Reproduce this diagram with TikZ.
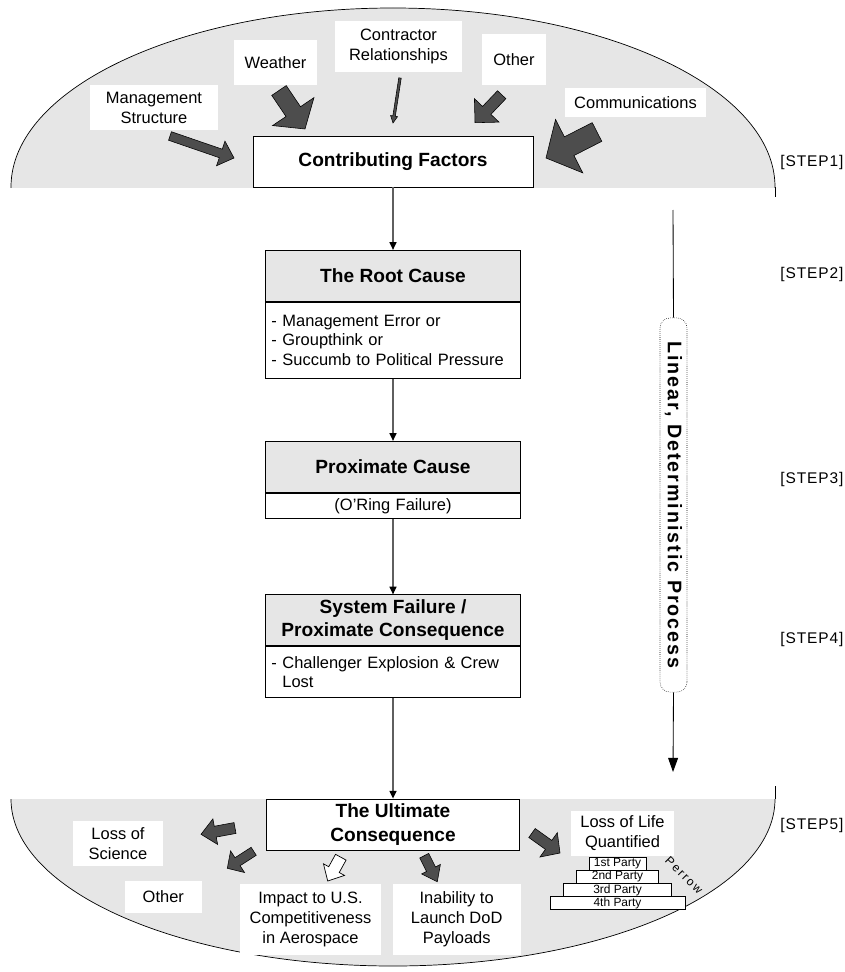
\documentclass[tikz,border=0pt]{standalone}
\usepackage{fontspec}
\setmainfont{Liberation Sans}
\newfontfamily\trackfont[LetterSpace=6]{Liberation Sans}
\newfontfamily\capfont[LetterSpace=10]{Liberation Sans}
\newfontfamily\wideTrack[LetterSpace=16]{Liberation Sans}
\usetikzlibrary{arrows.meta,positioning,calc}
\definecolor{bggray}{RGB}{230,230,230}
\definecolor{arrgray}{RGB}{77,77,77}
\definecolor{linegray}{RGB}{95,95,95}

\newcommand{\normsize}{\fontsize{11.7pt}{14.2pt}\selectfont}
\newcommand{\bodysize}{\fontsize{11.7pt}{13.9pt}\selectfont}
\newcommand{\titlesize}{\fontsize{13.6pt}{16.6pt}\selectfont}
\newcommand{\stepsize}{\fontsize{11pt}{13pt}\selectfont}
\newcommand{\partysize}{\fontsize{8.5pt}{9pt}\selectfont}
\newcommand{\capsize}{\fontsize{14pt}{16pt}\selectfont}
\newcommand{\pxu}{0.025cm}

% block arrow: [style]{tail}{tip}{shaft width}{head width}{head length}
\newcommand{\blockarrow}[6][barr]{%
  \coordinate (ba-b) at ($(#3)!#6*\pxu!(#2)$);
  \filldraw[#1] ($(#2)!0.5*#4*\pxu!90:(#3)$) -- ($(ba-b)!0.5*#4*\pxu!-90:(#2)$)
    -- ($(ba-b)!0.5*#5*\pxu!-90:(#2)$) -- (#3) -- ($(ba-b)!0.5*#5*\pxu!90:(#2)$)
    -- ($(ba-b)!0.5*#4*\pxu!90:(#2)$) -- ($(#2)!0.5*#4*\pxu!-90:(#3)$) -- cycle;
}

\begin{document}
\begin{tikzpicture}[
  x=0.025cm, y=-0.025cm,
  lbl/.style={fill=white, inner sep=0pt, align=center, font=\normsize},
  tbox/.style={draw, fill=white, line width=0.6pt, inner sep=0pt, align=center,
               font=\titlesize\bfseries},
  hbox/.style={tbox, fill=bggray, minimum width=6.375cm, minimum height=1.275cm},
  bbox/.style={draw, fill=white, line width=0.6pt, minimum width=6.375cm,
               font=\bodysize, inner xsep=0.15cm, inner ysep=0pt, text width=6.075cm},
  party/.style={draw, fill=white, line width=0.5pt, inner sep=0pt,
                minimum height=0.31cm, font=\partysize},
  steplbl/.style={anchor=west, inner sep=0pt, font=\trackfont\stepsize},
  conn/.style={draw=linegray, line width=0.9pt, -{Triangle[black, width=5pt, length=5.5pt]}},
  bowl/.style={fill=bggray, draw=black, line width=0.5pt},
  barr/.style={fill=arrgray, draw=black, line width=0.4pt},
  wbarr/.style={fill=white, draw=black, line width=0.5pt},
  capsule/.style={draw, densely dotted, line width=0.4pt, fill=white, rounded corners=0.25cm,
                  minimum width=9.35cm, minimum height=0.675cm, inner sep=0pt, rotate=-90,
                  font=\capfont\bfseries\capsize},
]
\useasboundingbox (0,0) rectangle (845,972);

% Bowls
\begin{scope}
  \clip (0,0) rectangle (845,187);
  \filldraw[bowl] (393,187) ellipse [x radius=382, y radius=179];
\end{scope}
\begin{scope}
  \clip (0,799) rectangle (845,972);
  \filldraw[bowl] (393,799) ellipse [x radius=382, y radius=167];
\end{scope}
\draw[line width=0.5pt] (775,187) -- (775,197);
\draw[line width=0.5pt] (775,786) -- (775,799);

% Contributing factors
\node[lbl, minimum width=3.2cm, minimum height=1.125cm] (mgmt) at (154,107.5) {Management\\Structure};
\node[lbl, minimum width=2.075cm, minimum height=1.125cm] (wthr) at (275.5,62.5) {Weather};
\node[lbl, minimum width=3.175cm, minimum height=1.275cm] (ctr) at (398.5,46.2) {Contractor\\Relationships};
\node[lbl, minimum width=1.6cm, minimum height=1.275cm] (oth) at (514,59.5) {Other};
\node[lbl, minimum width=3.525cm, minimum height=0.7cm] (comm) at (635.5,102.5) {Communications};
\node[tbox, minimum width=7cm, minimum height=1.275cm] (contrib) at (393,161.5) {Contributing Factors};

\blockarrow{170,136}{234,158}{9}{26}{14}
\blockarrow{279,90.5}{305,129}{17.5}{50}{21}
\blockarrow{400,78}{393,123}{2.5}{7}{7}
\blockarrow{501.7,94.7}{475,122.7}{11.5}{34}{17}
\blockarrow{597,132}{546,158}{21}{60}{26}

% Chain
\node[hbox] (rooth) at (393,275.8) {The Root Cause};
\node[bbox, below=0pt of rooth, minimum height=1.9cm, align=left] (rootb)
  {- Management Error or\\- Groupthink or\\- Succumb to Political Pressure};
\node[hbox] (proxh) at (393,466.8) {Proximate Cause};
\node[bbox, below=0pt of proxh, minimum height=0.64cm, align=center] (proxb) {(O'Ring Failure)};
\node[hbox] (sysh) at (393,620.3) {System Failure /\\Proximate Consequence};
\node[bbox, below=0pt of sysh, minimum height=1.275cm, align=left] (sysb)
  {- Challenger Explosion \& Crew\\\phantom{- }Lost};
\node[tbox, minimum width=6.33cm, minimum height=1.275cm] (ult) at (393,824.5) {The Ultimate\\Consequence};

\draw[conn] (contrib) -- (rooth);
\draw[conn] (rootb) -- (proxh);
\draw[conn] (proxb) -- (sysh);
\draw[conn] (sysb) -- (ult);

% Ultimate consequences
\node[lbl, minimum width=2.265cm, minimum height=1.125cm] (sci) at (118,843.2) {Loss of\\Science};
\node[lbl, minimum width=1.92cm, minimum height=0.79cm] (oth2) at (163.3,896.8) {Other};
\node[lbl, minimum width=3.525cm, minimum height=1.775cm] (imp) at (310.5,919.5) {Impact to U.S.\\Competitiveness\\in Aerospace};
\node[lbl, minimum width=3.2cm, minimum height=1.775cm] (dod) at (456.7,919.5) {Inability to\\Launch DoD\\Payloads};
\node[lbl, minimum width=2.575cm, minimum height=1.12cm] (life) at (622.5,833.3) {Loss of Life\\Quantified};

\node[party, minimum width=1.425cm] (p1) at (617.5,863.7) {1st Party};
\node[party, minimum width=2.065cm, below=0pt of p1] (p2) {2nd Party};
\node[party, minimum width=2.71cm, below=0pt of p2] (p3) {3rd Party};
\node[party, minimum width=3.375cm, below=0pt of p3] (p4) {4th Party};
\node[rotate=-45, inner sep=0pt, font=\wideTrack\partysize] (perrow) at (684,875) {Perrow};

\blockarrow{235,828}{201,834.3}{11}{26}{14.5}
\blockarrow{253.7,851.3}{227.3,868.3}{9.5}{25.7}{12.2}
\blockarrow[wbarr]{340.8,857.2}{327.7,881}{12}{24}{13}
\blockarrow{424.2,855.7}{437.3,881.7}{10}{21}{14}
\blockarrow{532,833}{560,853}{11}{30}{14}

% Process arrow
\coordinate (ltop) at (673,210);
\coordinate (lbot) at (673,772);
\node[capsule] (lin) at (673.5,505) {Linear, Deterministic Process};
\draw[line width=0.6pt] (ltop) -- (lin.west);
\draw[line width=0.6pt, -{Triangle[width=7pt, length=10pt]}] (lin.east) -- (lbot);

% Steps
\node[steplbl] (s1) at (780,163) {[STEP1]};
\node[steplbl] (s2) at (780,274) {[STEP2]};
\node[steplbl] (s3) at (780,479) {[STEP3]};
\node[steplbl] (s4) at (780,639) {[STEP4]};
\node[steplbl] (s5) at (780,825) {[STEP5]};
\end{tikzpicture}
\end{document}
